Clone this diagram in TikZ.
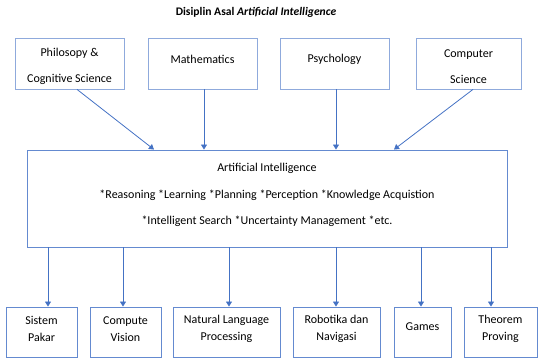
\documentclass[tikz,border=0pt]{standalone}
\usepackage{fontspec}
\setmainfont{Carlito}
\usetikzlibrary{arrows.meta}
\usetikzlibrary{positioning}

\definecolor{srcblue}{RGB}{143,170,220}
\definecolor{appblue}{RGB}{100,138,208}
\definecolor{arrblue}{RGB}{68,114,196}

\tikzset{
  src/.style={draw=srcblue, line width=0.8pt, minimum width=109, minimum height=51, inner sep=0pt},
  core/.style={draw=appblue, line width=0.9pt, minimum width=480, minimum height=97, inner sep=0pt},
  app/.style={draw=appblue, line width=0.9pt, minimum height=50, inner sep=0pt},
  txt/.style n args={2}{label={[align=center, yshift=#1, font=\fontsize{12}{17.5}\selectfont]center:#2}},
  arr/.style={draw=arrblue, line width=0.8pt, -{Triangle[length=5pt,width=6pt]}},
}

\begin{document}
\begin{tikzpicture}[x=1pt,y=-1pt]
\useasboundingbox (0,0) rectangle (542,358);

% judul
\node[font=\fontsize{11.6}{13}\selectfont\bfseries] (title) at (256,12) {Disiplin Asal \textit{Artificial Intelligence}};

% disiplin asal
\node[src, txt={-3}{Philosopy \&\\[8.5pt]Cognitive Science}] (phil) at (69.5,63.5) {};
\node[src, txt={4}{Mathematics}] (math) at (202.5,63.5) {};
\node[src, txt={4}{Psychology}] (psych) at (334.5,63.5) {};
\node[src, minimum width=105, txt={-3}{Computer\\[8.5pt]Science}] (comp) at (468.5,63.5) {};

% kotak AI
\node[core, txt={3.5}{Artificial Intelligence\\[9pt]*Reasoning *Learning *Planning *Perception *Knowledge Acquistion\\[9pt]*Intelligent Search *Uncertainty Management *etc.}] (main) at (267,198.5) {};

\draw[arr] ([xshift=7.5]phil.south) -- ([xshift=-113]main.north);
\draw[arr] ([xshift=1.5]math.south) -- ([xshift=-63]main.north);
\draw[arr] ([xshift=1.5]psych.south) -- ([xshift=69]main.north);
\draw[arr] ([xshift=4.5]comp.south) -- ([xshift=127]main.north);

% bidang aplikasi
\node[app, minimum width=71, txt={3}{Sistem\\Pakar}] (sp) at (41.5,332) {};
\node[app, minimum width=71, txt={3}{Compute\\Vision}] (cv) at (125.5,332) {};
\node[app, minimum width=107, txt={3}{Natural Language\\Processing}] (nlp) at (226.5,332) {};
\node[app, minimum width=87, txt={3}{Robotika dan\\Navigasi}] (rob) at (336.5,332) {};
\node[app, minimum width=57, txt={5}{Games}] (gm) at (422.5,332) {};
\node[app, minimum width=73, txt={3}{Theorem\\Proving}] (tp) at (500.5,332) {};

\foreach \n/\x in {sp/48, cv/123, nlp/229, rob/336, gm/421, tp/491} {
  \coordinate (x\n) at (\x,0);
  \draw[arr] (main.south -| x\n) -- (\n.north -| x\n);
}

\end{tikzpicture}
\end{document}
